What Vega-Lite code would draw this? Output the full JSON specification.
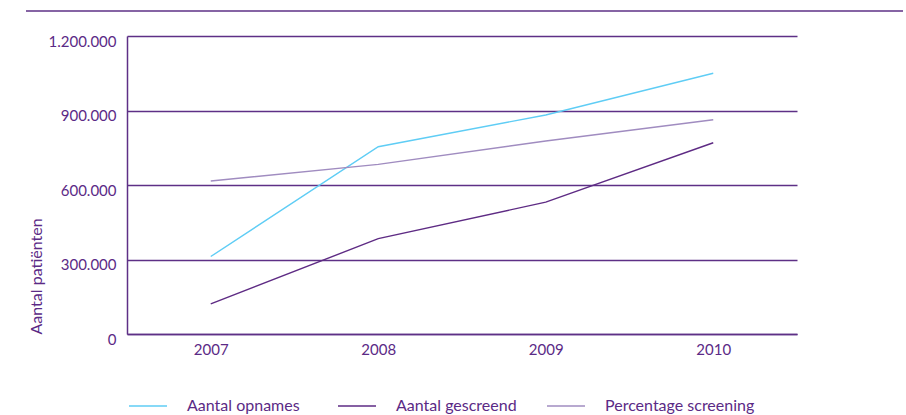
{
  "$schema": "https://vega.github.io/schema/vega-lite/v6.json",
  "padding": {"left": 23, "top": 10, "right": 6, "bottom": 0},
  "config": {
    "font": "Lato",
    "view": {"stroke": null},
    "locale": {
      "number": {"decimal": ",", "thousands": ".", "grouping": [3], "currency": ["€ ", ""]}
    }
  },
  "datasets": {
    "patienten": [
      {"jaar": "2007", "reeks": "Aantal opnames", "aantal": 312000},
      {"jaar": "2008", "reeks": "Aantal opnames", "aantal": 754000},
      {"jaar": "2009", "reeks": "Aantal opnames", "aantal": 882000},
      {"jaar": "2010", "reeks": "Aantal opnames", "aantal": 1050000},
      {"jaar": "2007", "reeks": "Aantal gescreend", "aantal": 121000},
      {"jaar": "2008", "reeks": "Aantal gescreend", "aantal": 384000},
      {"jaar": "2009", "reeks": "Aantal gescreend", "aantal": 531000},
      {"jaar": "2010", "reeks": "Aantal gescreend", "aantal": 770000},
      {"jaar": "2007", "reeks": "Percentage screening", "aantal": 616000},
      {"jaar": "2008", "reeks": "Percentage screening", "aantal": 683000},
      {"jaar": "2009", "reeks": "Percentage screening", "aantal": 777000},
      {"jaar": "2010", "reeks": "Percentage screening", "aantal": 863000}
    ]
  },
  "resolve": {"scale": {"y": "independent"}},
  "spacing": 21,
  "vconcat": [
    {
      "width": 877,
      "height": 1,
      "data": {"values": [{}]},
      "mark": {"type": "rule", "color": "#5e3086", "strokeWidth": 1.5},
      "encoding": {
        "y": {"datum": 1, "type": "quantitative", "scale": {"domain": [0, 1]}, "axis": null}
      }
    },
    {
      "spacing": -2,
      "resolve": {"scale": {"y": "independent"}},
      "hconcat": [
        {
          "width": 1,
          "height": 1,
          "data": {"values": [{}]},
          "mark": {"type": "point", "opacity": 0},
          "encoding": {}
        },
        {
          "width": 670,
          "height": 298,
          "data": {"name": "patienten"},
          "mark": {"type": "line", "strokeWidth": 1.4},
          "encoding": {
            "x": {
              "field": "jaar",
              "type": "ordinal",
              "scale": {"type": "point", "padding": 0.5},
              "axis": {
                "title": null,
                "labelAngle": 0,
                "labelFontSize": 15,
                "labelColor": "#5b2a86",
                "labelBaseline": "alphabetic",
                "labelPadding": 20,
                "ticks": false,
                "grid": false,
                "domainColor": "#5e3086",
                "domainWidth": 1.5
              }
            },
            "y": {
              "field": "aantal",
              "type": "quantitative",
              "scale": {"domain": [0, 1200000], "nice": false},
              "axis": {
                "values": [0, 300000, 600000, 900000, 1200000],
                "format": ",d",
                "title": "Aantal patiënten",
                "titleAnchor": "start",
                "titleFontSize": 16,
                "titleFontWeight": "normal",
                "titleColor": "#5b2a86",
                "titlePadding": 4,
                "labelFontSize": 15,
                "labelColor": "#5b2a86",
                "labelPadding": 11,
                "labelBaseline": "alphabetic",
                "labelOffset": 10,
                "ticks": false,
                "domainColor": "#5e3086",
                "domainWidth": 1.5,
                "grid": true,
                "gridColor": "#5e3086",
                "gridWidth": 1.5,
                "gridOpacity": 1
              }
            },
            "color": {
              "field": "reeks",
              "type": "nominal",
              "scale": {
                "domain": ["Aantal opnames", "Aantal gescreend", "Percentage screening"],
                "range": ["#5fcdf5", "#5e2b84", "#a08cc0"]
              },
              "legend": {
                "title": null,
                "orient": "none",
                "legendX": 102,
                "legendY": 375,
                "direction": "horizontal",
                "columns": 3,
                "gridAlign": "all",
                "columnPadding": -14,
                "symbolType": "stroke",
                "symbolSize": 1444,
                "symbolStrokeWidth": 1.4,
                "labelFontSize": 16,
                "labelColor": "#5b2a86",
                "labelOffset": 19,
                "labelLimit": 300
              }
            }
          }
        }
      ]
    }
  ]
}
